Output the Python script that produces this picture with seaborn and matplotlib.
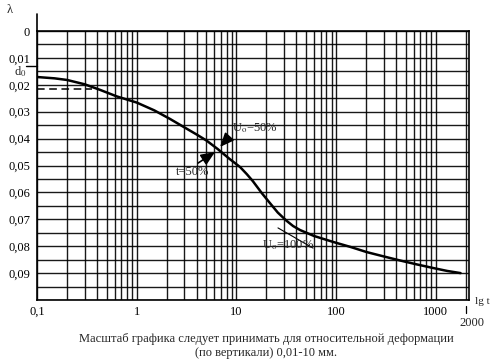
import numpy as np
import pandas as pd
import matplotlib
matplotlib.use("Agg")
import matplotlib.pyplot as plt
import seaborn as sns
from matplotlib.ticker import LogLocator, FixedLocator, FixedFormatter, MultipleLocator, NullFormatter

# ---- data ----
t_vals = [0.1, 0.15, 0.2, 0.3, 0.43, 0.63, 1.0, 1.5, 2.16, 3.0, 4.0, 5.0, 6.5,
          8.5, 10.9, 12.7, 14.6, 18, 21.6, 26, 31.7, 37, 43.5, 60, 93, 140, 203,
          300, 436, 650, 938, 1300, 1770]
lam_vals = [0.0171, 0.0176, 0.0182, 0.0198, 0.0219, 0.0243, 0.0266, 0.0295, 0.0327,
            0.0358, 0.0385, 0.0407, 0.0439, 0.0475, 0.0506, 0.0532, 0.0558, 0.0603,
            0.0639, 0.0675, 0.0705, 0.0725, 0.0740, 0.0762, 0.0784, 0.0803, 0.0822,
            0.0838, 0.0853, 0.0868, 0.0881, 0.0892, 0.0900]

x_ticks = [0.1, 1, 10, 100, 1000]
x_labels = ["0,1", "1", "10", "100", "1000"]
y_ticks = [0, 0.01, 0.02, 0.03, 0.04, 0.05, 0.06, 0.07, 0.08, 0.09]
y_labels = ["0", "0,01", "0,02", "0,03", "0,04", "0,05", "0,06", "0,07", "0,08", "0,09"]

d0 = 0.013            # initial reading
dash_lam = 0.0216     # dashed helper line level
dash_t_end = 0.36
tangent_t = [26.1, 58.6]
tangent_lam = [0.0732, 0.0807]

caption = ("Масштаб графика следует принимать для относительной деформации\n"
           "(по вертикали) 0,01-10 мм.")

df = pd.DataFrame({"t": t_vals, "lam": lam_vals})

# ---- style ----
sns.set_theme(style="white")
plt.rcParams["font.family"] = ["Liberation Serif", "DejaVu Serif"]
plt.rcParams["mathtext.fontset"] = "stix"

W, H = 497, 363
fig = plt.figure(figsize=(W / 100, H / 100), dpi=100)
fig.patch.set_facecolor("white")
ax = fig.add_axes([37 / W, 1 - 300 / H, (469 - 37) / W, (300 - 31) / H])

ax.set_xscale("log")
ax.set_xlim(0.1, 2150)
ax.set_ylim(0.1, 0.0)

# grid: every 1..9 per decade, every 0.005 vertically
ax.xaxis.set_major_locator(FixedLocator(x_ticks))
ax.xaxis.set_major_formatter(FixedFormatter(x_labels))
ax.xaxis.set_minor_locator(LogLocator(base=10, subs=np.arange(2, 10)))
ax.xaxis.set_minor_formatter(NullFormatter())
ax.yaxis.set_major_locator(FixedLocator(y_ticks))
ax.yaxis.set_major_formatter(FixedFormatter(y_labels))
ax.yaxis.set_minor_locator(MultipleLocator(0.005))
ax.grid(which="both", color="black", linewidth=1.0, alpha=0.9)
ax.tick_params(which="both", length=0, labelsize=9, colors="black")
ax.tick_params(axis="x", pad=4)
ax.tick_params(axis="y", pad=5)
for sp in ax.spines.values():
    sp.set_color("black")
    sp.set_linewidth(1.2)

# main curve
sns.lineplot(data=df, x="t", y="lam", ax=ax, color="black", linewidth=1.8,
             sort=False, estimator=None)
ax.set_xlabel("")
ax.set_ylabel("")

# dashed helper line and tangent
ax.plot([0.1, dash_t_end], [dash_lam, dash_lam], color="black", lw=1.1, ls=(0, (5, 3)))
ax.plot(tangent_t, tangent_lam, color="black", lw=0.8)

# left axis extension and d0 mark
ax.plot([0.1, 0.1], [0, -0.0063], color="black", lw=1.2, clip_on=False)
ax.plot([0.1 / 10 ** (11 / 99.7), 0.1], [d0, d0], color="black", lw=1.0, clip_on=False)
ax.text(0.1 / 10 ** (17 / 99.7), 0.0152, "d$_0$", ha="center", va="center", fontsize=9)

# arrows
arrow = dict(arrowstyle="-|>,head_length=0.7,head_width=0.3", color="black", lw=1.2,
             shrinkA=0, shrinkB=0)
ax.annotate("", xy=(6.85, 0.0431), xytext=(8.24, 0.0398), arrowprops=arrow)
ax.annotate("", xy=(6.1, 0.0450), xytext=(4.12, 0.0491), arrowprops=arrow)
ax.text(9.04, 0.0361, "U$_\\mathrm{o}$=50%", ha="left", va="center", fontsize=9)
ax.text(3.59, 0.0524, "t=50%", ha="center", va="center", fontsize=9)
ax.text(18.1, 0.0796, "U$_\\mathrm{o}$=100%", ha="left", va="center", fontsize=9)

# figure-level labels
fig.text(10 / W, 1 - 10 / H, "λ", ha="center", va="center", fontsize=9)
fig.text(482 / W, 1 - 302 / H, "lg t", ha="center", va="center", fontsize=8)
fig.text(472 / W, 1 - 323 / H, "2000", ha="center", va="center", fontsize=9)
fig.add_artist(plt.Line2D([466 / W, 466 / W], [1 - 306 / H, 1 - 313 / H],
                          color="black", lw=0.9))
fig.text(266 / W, 1 - 346 / H, caption, ha="center", va="center", fontsize=9,
         multialignment="center", linespacing=1.3)

fig.savefig("out.png", dpi=100, facecolor="white")
